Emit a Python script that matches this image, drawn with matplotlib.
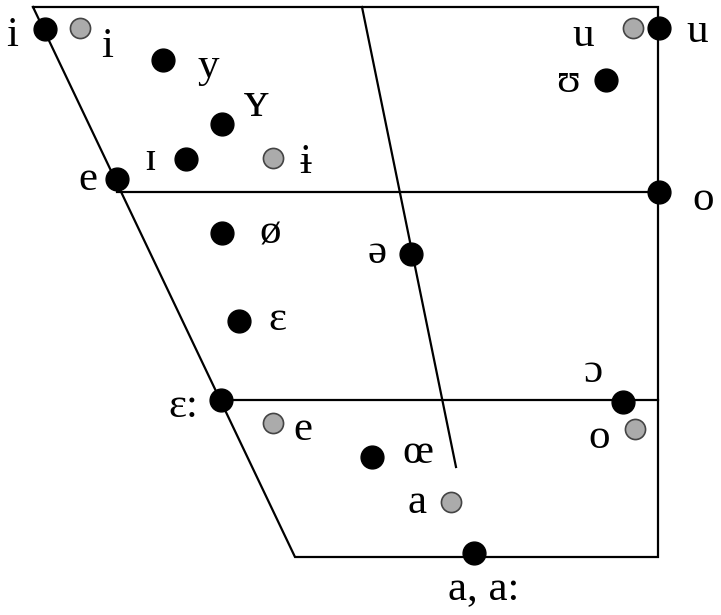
import matplotlib
matplotlib.use('Agg')
import matplotlib.pyplot as plt

plt.rcParams['font.family'] = ['Liberation Serif', 'DejaVu Serif']

# chart frame (image coordinates, y down)
frame_x = [33, 658, 658, 295, 33]
frame_y = [7, 7, 557, 557, 7]
mid_x = [117, 658]
mid_y = [192, 192]
low_x = [220, 658]
low_y = [400, 400]
central_x = [362, 456]
central_y = [7, 467]

# black vowels: (x, y)
black_x = [45, 163, 222, 186, 117, 659, 606, 659, 222, 411, 239, 221, 623, 372, 474]
black_y = [29, 60, 124, 159, 179, 28, 80, 192, 233, 254, 321, 400, 402, 457, 553]

# grey vowels
grey_x = [80, 273, 633, 273, 635, 451]
grey_y = [28, 158, 28, 423, 429, 502]

# labels
label_text = ['i', 'i', 'y', 'ʏ', 'ɪ', 'ɨ', 'e', 'ø', 'u', 'u', 'ʊ', 'o', 'ə', 'ɛ', 'ɛ:',
              'e', 'ɔ', 'o', 'œ', 'a', 'a, a:']
label_x = [12, 107, 208, 256, 150, 305, 88, 270, 583, 697, 568, 703, 377, 277, 183,
           303, 593, 599, 418, 417, 484]
label_y = [36, 47, 67, 104, 160, 163, 180, 233, 36, 32, 82, 200, 253, 320, 407,
           430, 372, 438, 453, 503, 590]

fig = plt.figure(figsize=(7.21, 6.15), dpi=100)
ax = fig.add_axes([0, 0, 1, 1])
ax.set_xlim(0, 721)
ax.set_ylim(615, 0)
ax.axis('off')

lw = 1.6
ax.plot(frame_x, frame_y, color='black', lw=lw, solid_joinstyle='miter')
ax.plot(mid_x, mid_y, color='black', lw=lw)
ax.plot(low_x, low_y, color='black', lw=lw)
ax.plot(central_x, central_y, color='black', lw=lw)

ax.scatter(black_x, black_y, s=270, color='black', zorder=3)
ax.scatter(grey_x, grey_y, s=210, color='#ababab', edgecolors='#444444',
           linewidths=1.2, zorder=3)

for t, x, y in zip(label_text, label_x, label_y):
    fs = 36 if t == 'ʏ' else 31
    ax.text(x, y, t, fontsize=fs, ha='center', va='center')

fig.savefig('out.png', dpi=100)
